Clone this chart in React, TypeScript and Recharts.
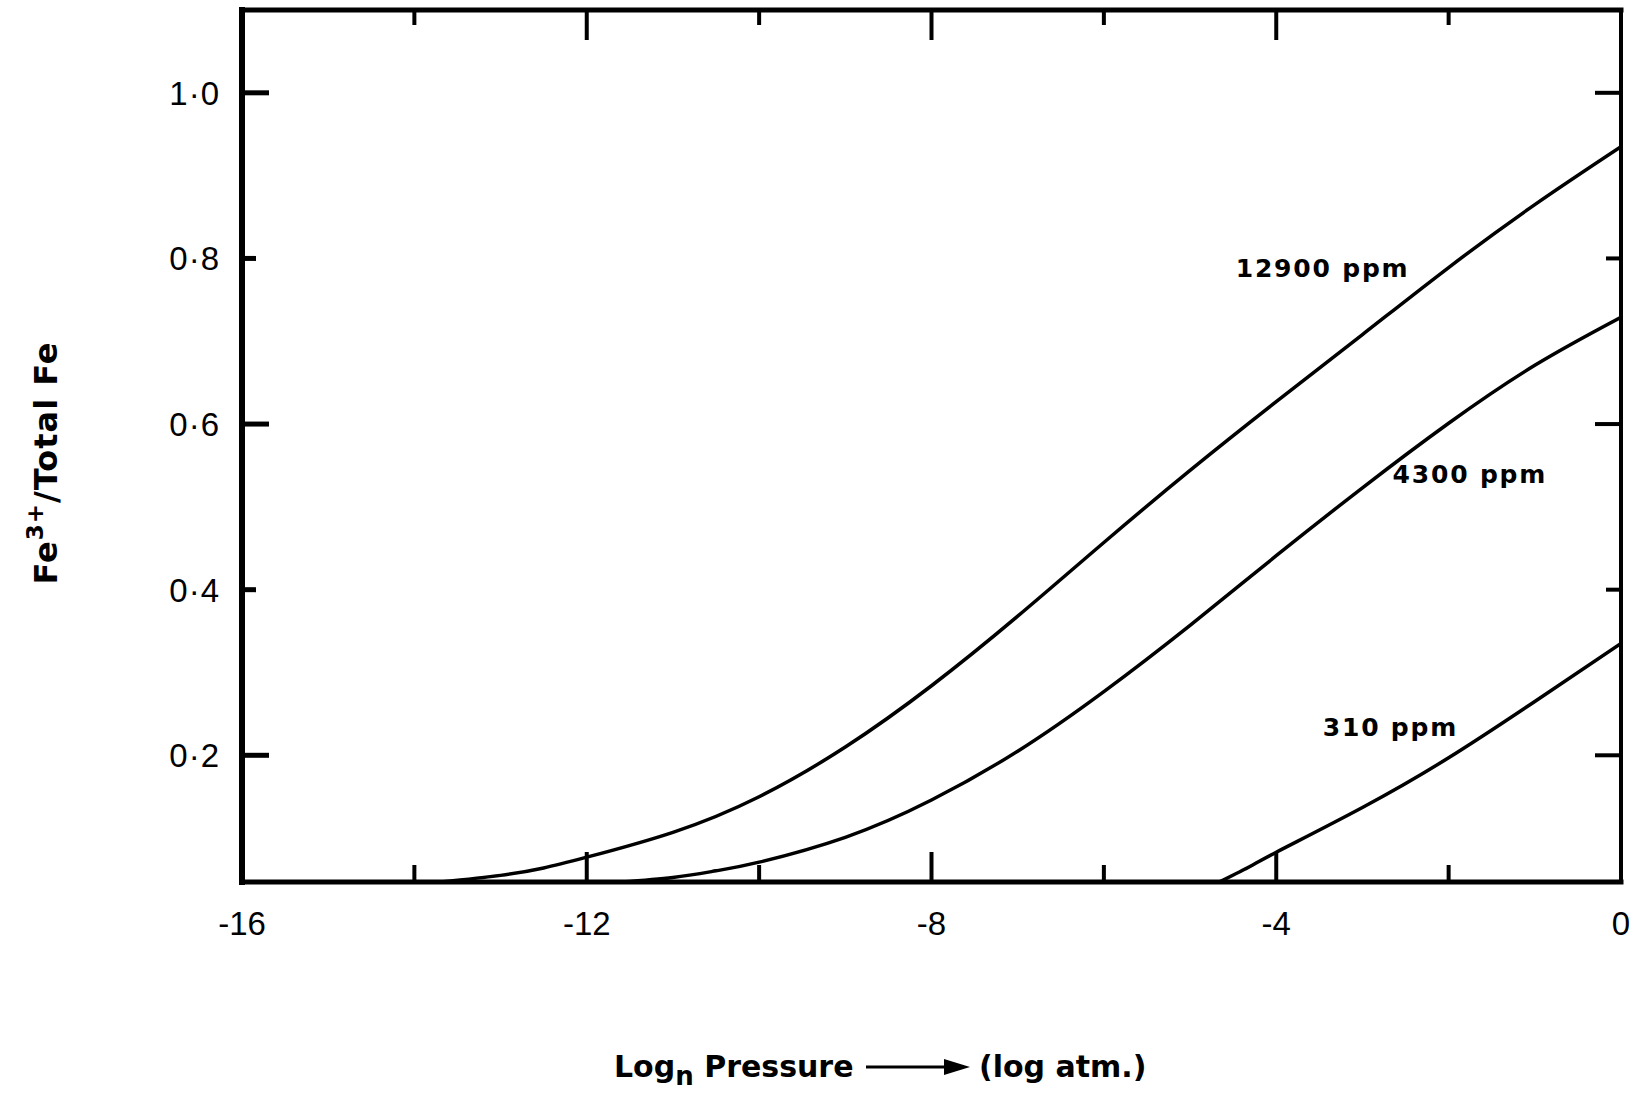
import React from 'react';
import { LineChart, Line, XAxis, YAxis, ReferenceDot } from 'recharts';

// ---- data ----
const xTicks = [-16, -14, -12, -10, -8, -6, -4, -2, 0];
const xMajorTicks = [-16, -12, -8, -4, 0];
const xTickLabels = ['-16', '', '-12', '', '-8', '', '-4', '', '0'];
const yTicks = [0.2, 0.4, 0.6, 0.8, 1.0];
const yMajorTicks = [0.2, 0.6, 1.0];
const yTickLabels = ['0·2', '0·4', '0·6', '0·8', '1·0'];
const xDomain: [number, number] = [-16, 0];
const yDomain: [number, number] = [0.047, 1.1];

const seriesNames = ['12900 ppm', '4300 ppm', '310 ppm'];

const curve12900 = [
  { x: -13.7, y: 0.047 },
  { x: -13, y: 0.055 },
  { x: -12.5, y: 0.064 },
  { x: -12, y: 0.077 },
  { x: -11, y: 0.107 },
  { x: -10, y: 0.15 },
  { x: -9, y: 0.21 },
  { x: -8, y: 0.284 },
  { x: -7, y: 0.368 },
  { x: -6, y: 0.457 },
  { x: -5, y: 0.544 },
  { x: -4, y: 0.627 },
  { x: -3, y: 0.708 },
  { x: -2, y: 0.789 },
  { x: -1, y: 0.865 },
  { x: 0, y: 0.935 },
];

const curve4300 = [
  { x: -11.6, y: 0.047 },
  { x: -11, y: 0.0525 },
  { x: -10.5, y: 0.0605 },
  { x: -10, y: 0.071 },
  { x: -9, y: 0.101 },
  { x: -8, y: 0.146 },
  { x: -7, y: 0.205 },
  { x: -6, y: 0.277 },
  { x: -5, y: 0.357 },
  { x: -4, y: 0.441 },
  { x: -3, y: 0.523 },
  { x: -2, y: 0.601 },
  { x: -1, y: 0.671 },
  { x: 0, y: 0.729 },
];

const curve310 = [
  { x: -4.66, y: 0.047 },
  { x: -4.3, y: 0.066 },
  { x: -4, y: 0.083 },
  { x: -3, y: 0.137 },
  { x: -2, y: 0.197 },
  { x: -1, y: 0.265 },
  { x: 0, y: 0.335 },
];

const seriesData = [curve12900, curve4300, curve310];

// label anchor positions in data space (left edge, vertical centre)
const labelAnchorX = [-4.47, -2.65, -3.46];
const labelAnchorY = [0.789, 0.54, 0.234];

// ---- layout / style ----
const W = 1651;
const H = 1093;
const INK = '#000';
const tickFont = '"Liberation Sans", Arial, sans-serif';
const boldFont = '"DejaVu Sans", sans-serif';

const BottomTick = (props: any) => {
  const { x, y, payload } = props;
  const v = payload.value;
  const major = xMajorTicks.includes(v);
  const isEnd = v === xDomain[0] || v === xDomain[1];
  const label = xTickLabels[xTicks.indexOf(v)];
  return (
    <g>
      {!isEnd && (
        <line x1={x} y1={y} x2={x} y2={y - (major ? 30 : 17)} stroke={INK} strokeWidth={4} />
      )}
      {label && (
        <text x={x} y={y + 41} dy="0.36em" textAnchor="middle" fontFamily={tickFont} fontSize={33} fill={INK}>
          {label}
        </text>
      )}
    </g>
  );
};

const TopTick = (props: any) => {
  const { x, y, payload } = props;
  const v = payload.value;
  const major = xMajorTicks.includes(v);
  const isEnd = v === xDomain[0] || v === xDomain[1];
  if (isEnd) return <g />;
  return <line x1={x} y1={y} x2={x} y2={y + (major ? 30 : 15)} stroke={INK} strokeWidth={4} />;
};

const LeftTick = (props: any) => {
  const { x, y, payload } = props;
  const v = payload.value;
  const major = yMajorTicks.includes(v);
  const label = yTickLabels[yTicks.indexOf(v)];
  return (
    <g>
      <line x1={x} y1={y} x2={x + (major ? 27 : 14)} y2={y} stroke={INK} strokeWidth={5} />
      <text x={x - 22} y={y} dy="0.36em" textAnchor="end" fontFamily={tickFont} fontSize={33} fill={INK} letterSpacing={1}>
        {label}
      </text>
    </g>
  );
};

const RightTick = (props: any) => {
  const { x, y, payload } = props;
  const v = payload.value;
  const major = yMajorTicks.includes(v);
  return <line x1={x} y1={y} x2={x - (major ? 26 : 15)} y2={y} stroke={INK} strokeWidth={4} />;
};

const YTitle = () => {
  const cx = 57;
  const cy = 463;
  return (
    <text
      x={cx}
      y={cy}
      transform={`rotate(-90, ${cx}, ${cy})`}
      textAnchor="middle"
      fontFamily={boldFont}
      fontWeight="bold"
      fontSize={32}
      letterSpacing={1}
      fill={INK}
    >
      Fe<tspan dy={-14} fontSize={23}>3+</tspan>
      <tspan dy={14}>/Total Fe</tspan>
    </text>
  );
};

const XTitle = () => {
  const by = 1077;
  const ay = 1067;
  return (
    <g>
      <text x={614} y={by} fontFamily={boldFont} fontWeight="bold" fontSize={30} fill={INK}>
        Log<tspan dy={8} fontSize={26}>n</tspan>
        <tspan dy={-8}> Pressure</tspan>
      </text>
      <line x1={866} y1={ay} x2={948} y2={ay} stroke={INK} strokeWidth={3} />
      <path d={`M 944 ${ay - 8} L 970 ${ay} L 944 ${ay + 8} Z`} fill={INK} />
      <text x={979} y={by} fontFamily={boldFont} fontWeight="bold" fontSize={30} fill={INK}>
        (log atm.)
      </text>
    </g>
  );
};

const makeCurveLabel = (text: string) => (p: any) => (
  <text
    x={p.cx}
    y={p.cy}
    dy="0.36em"
    textAnchor="start"
    fontFamily={boldFont}
    fontWeight="bold"
    fontSize={25}
    letterSpacing={1.8}
    fill={INK}
  >
    {text}
  </text>
);

export default function App() {
  return (
    <div style={{ width: W, height: H, background: '#fff', overflow: 'hidden' }}>
      <style>{'body{margin:0}'}</style>
      <LineChart width={W} height={H} margin={{ top: 8, right: 16, bottom: 111, left: 92 }}>
        <XAxis
          xAxisId="bottom"
          orientation="bottom"
          dataKey="x"
          type="number"
          domain={xDomain}
          allowDataOverflow
          ticks={xTicks}
          interval={0}
          height={100}
          tickSize={0}
          tickMargin={0}
          tickLine={false}
          tick={<BottomTick />}
          axisLine={{ stroke: INK, strokeWidth: 5, strokeLinecap: 'square' }}
          label={<XTitle />}
        />
        <XAxis
          xAxisId="top"
          orientation="top"
          dataKey="x"
          type="number"
          domain={xDomain}
          allowDataOverflow
          ticks={xTicks}
          interval={0}
          height={2}
          tickSize={0}
          tickMargin={0}
          tickLine={false}
          tick={<TopTick />}
          axisLine={{ stroke: INK, strokeWidth: 5, strokeLinecap: 'square' }}
        />
        <YAxis
          yAxisId="left"
          orientation="left"
          type="number"
          domain={yDomain}
          allowDataOverflow
          ticks={yTicks}
          interval={0}
          width={150}
          tickSize={0}
          tickMargin={0}
          tickLine={false}
          tick={<LeftTick />}
          axisLine={{ stroke: INK, strokeWidth: 6, strokeLinecap: 'square' }}
          label={<YTitle />}
        />
        <YAxis
          yAxisId="right"
          orientation="right"
          type="number"
          domain={yDomain}
          allowDataOverflow
          ticks={yTicks}
          interval={0}
          width={14}
          tickSize={0}
          tickMargin={0}
          tickLine={false}
          tick={<RightTick />}
          axisLine={{ stroke: INK, strokeWidth: 4, strokeLinecap: 'square' }}
        />
        {seriesData.map((d, i) => (
          <Line
            key={seriesNames[i]}
            name={seriesNames[i]}
            data={d}
            dataKey="y"
            xAxisId="bottom"
            yAxisId="left"
            type="natural"
            stroke={INK}
            strokeWidth={3.5}
            dot={false}
            activeDot={false}
            isAnimationActive={false}
          />
        ))}
        {seriesNames.map((n, i) => (
          <ReferenceDot
            key={'lbl' + n}
            x={labelAnchorX[i]}
            y={labelAnchorY[i]}
            xAxisId="bottom"
            yAxisId="left"
            r={0}
            ifOverflow="visible"
            shape={makeCurveLabel(n)}
          />
        ))}
      </LineChart>
    </div>
  );
}
